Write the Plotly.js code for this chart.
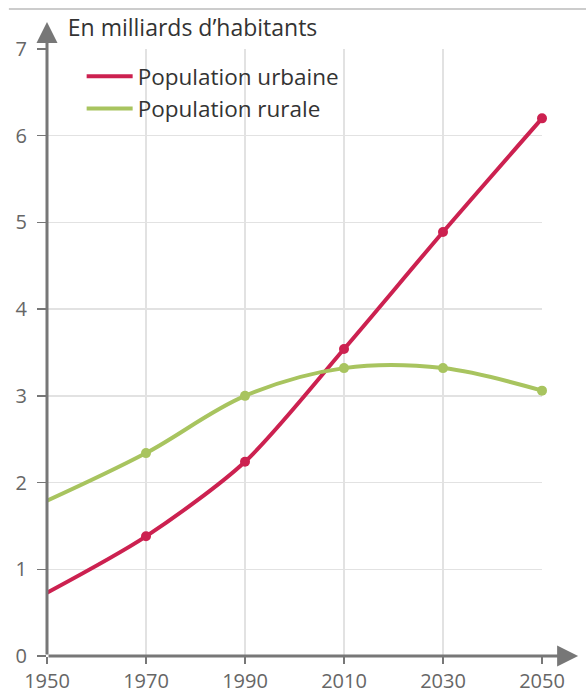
<!DOCTYPE html>
<html>
<head>
<meta charset="utf-8">
<script src="https://cdn.plot.ly/plotly-3.0.1.min.js"></script>
<style>html,body{margin:0;padding:0;background:#fff;}#chart{width:586px;height:695px;}</style>
</head>
<body>
<div id="chart"></div>
<script>
const years = [1950, 1970, 1990, 2010, 2030, 2050];
const urban = [0.73, 1.38, 2.24, 3.54, 4.89, 6.20];
const rural = [1.79, 2.34, 3.00, 3.32, 3.32, 3.06];
const seriesNames = ['Population urbaine', 'Population rurale'];
const yTicks = [0, 1, 2, 3, 4, 5, 6, 7];
const xTicks = [1950, 1970, 1990, 2010, 2030, 2050];
const titleText = 'En milliards d’habitants';

const red = '#cc2150';
const green = '#a8c45f';
const axisCol = '#777777';
const FONT = 'Open Sans, sans-serif';

const traces = [
  {x: years, y: urban, name: seriesNames[0], mode: 'lines', type: 'scatter',
   line: {color: red, width: 4, shape: 'spline', smoothing: 0.8}, cliponaxis: false},
  {x: years, y: rural, name: seriesNames[1], mode: 'lines', type: 'scatter',
   line: {color: green, width: 4, shape: 'spline', smoothing: 1}, cliponaxis: false},
  {x: years.slice(1), y: urban.slice(1), mode: 'markers', type: 'scatter', showlegend: false,
   marker: {color: red, size: 10}, cliponaxis: false, hoverinfo: 'skip'},
  {x: years.slice(1), y: rural.slice(1), mode: 'markers', type: 'scatter', showlegend: false,
   marker: {color: green, size: 10}, cliponaxis: false, hoverinfo: 'skip'}
];

const layout = {
  width: 586, height: 695,
  margin: {l: 47, r: 44, t: 49, b: 39},
  paper_bgcolor: '#ffffff', plot_bgcolor: '#ffffff',
  font: {family: FONT, color: '#555555', size: 20},
  showlegend: true,
  title: {text: titleText, font: {family: FONT, size: 23, color: '#333333'},
          xref: 'paper', x: 0.042, xanchor: 'left', yref: 'container', y: 1 - 28/695, yanchor: 'middle'},
  legend: {x: 0.07, y: 0.99, xanchor: 'left', yanchor: 'top', bgcolor: 'rgba(0,0,0,0)',
           font: {family: FONT, size: 22.5, color: '#333333'}, tracegroupgap: 0, itemwidth: 46},
  xaxis: {range: [1950, 2050], tickvals: xTicks, ticktext: xTicks.map(String),
          showgrid: true, gridcolor: '#e2e2e2', gridwidth: 1.5, zeroline: false, showline: false,
          ticks: 'outside', ticklen: 7, tickwidth: 1.5, tickcolor: axisCol,
          tickfont: {family: FONT, size: 20, color: '#666666'}, fixedrange: true},
  yaxis: {range: [0, 7], tickvals: yTicks, ticktext: yTicks.map(String),
          showgrid: true, gridcolor: '#e2e2e2', gridwidth: 1.5, zeroline: false, showline: false,
          ticks: 'outside', ticklen: 9, tickwidth: 1.5, tickcolor: axisCol, ticklabelstandoff: 6,
          tickfont: {family: FONT, size: 20, color: '#666666'}, fixedrange: true},
  shapes: [
    {type: 'line', xref: 'paper', yref: 'paper', x0: -0.077, x1: 1.09, y0: 1.066, y1: 1.066,
     line: {color: '#bbbbbb', width: 1.5}}
  ],
  annotations: [
    {xref: 'x', yref: 'y', x: 1950, y: 7.31, axref: 'x', ayref: 'y', ax: 1950, ay: 0,
     showarrow: true, arrowhead: 2, arrowsize: 1.4, arrowwidth: 3, arrowcolor: axisCol, text: ''},
    {xref: 'x', yref: 'y', x: 2057.3, y: 0, axref: 'x', ayref: 'y', ax: 1950, ay: 0,
     showarrow: true, arrowhead: 2, arrowsize: 1.4, arrowwidth: 3, arrowcolor: axisCol, text: ''}
  ]
};

Plotly.newPlot('chart', traces, layout, {displayModeBar: false, staticPlot: true});
</script>
</body>
</html>
